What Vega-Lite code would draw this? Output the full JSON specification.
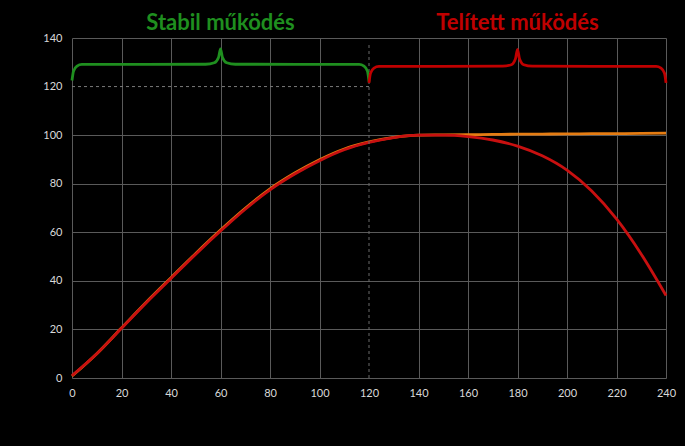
{
  "$schema": "https://vega.github.io/schema/vega-lite/v6.json",
  "width": 594,
  "height": 340,
  "autosize": {"type": "none"},
  "padding": {"left": 72, "top": 38, "right": 19, "bottom": 68},
  "background": "#000000",
  "config": {
    "view": {"stroke": null},
    "axis": {
      "domain": false,
      "ticks": false,
      "labelColor": "#d9d9d9",
      "labelFont": "Lato",
      "labelFontSize": 11,
      "gridColor": "#5a5a5a",
      "gridWidth": 1,
      "title": null
    }
  },
  "datasets": {
    "curves": [
      {"x": 0, "red": 1, "orange": 0.8},
      {"x": 10, "red": 10, "orange": 10},
      {"x": 20, "red": 20.5, "orange": 20.6},
      {"x": 30, "red": 31, "orange": 31.2},
      {"x": 40, "red": 41, "orange": 41.3},
      {"x": 50, "red": 51, "orange": 51.3},
      {"x": 60, "red": 60.5, "orange": 60.9},
      {"x": 70, "red": 69.5, "orange": 69.9},
      {"x": 80, "red": 77.5, "orange": 77.9},
      {"x": 90, "red": 84, "orange": 84.4},
      {"x": 100, "red": 89.5, "orange": 89.9},
      {"x": 110, "red": 94, "orange": 94.3},
      {"x": 120, "red": 97, "orange": 97.2},
      {"x": 130, "red": 99, "orange": 99.1},
      {"x": 140, "red": 100, "orange": 100},
      {"x": 150, "red": 100, "orange": 100.1},
      {"x": 160, "red": 99.4, "orange": 100.2},
      {"x": 170, "red": 98, "orange": 100.3},
      {"x": 180, "red": 95.5, "orange": 100.4},
      {"x": 190, "red": 91.5, "orange": 100.45},
      {"x": 200, "red": 85.6, "orange": 100.5},
      {"x": 210, "red": 77, "orange": 100.6},
      {"x": 220, "red": 65.5, "orange": 100.65},
      {"x": 230, "red": 51, "orange": 100.7},
      {"x": 240, "red": 34, "orange": 100.8}
    ],
    "greenBrace": [
      {"x": 0, "y": 122.5},
      {"x": 0.6, "y": 126.3},
      {"x": 2, "y": 128.4},
      {"x": 4, "y": 129.1},
      {"x": 54, "y": 129.2},
      {"x": 57.5, "y": 129.8},
      {"x": 59.2, "y": 132},
      {"x": 60, "y": 135.5},
      {"x": 60.8, "y": 132},
      {"x": 62.5, "y": 129.8},
      {"x": 66, "y": 129.2},
      {"x": 116, "y": 129.1},
      {"x": 118, "y": 128.4},
      {"x": 119.4, "y": 126.3},
      {"x": 120, "y": 122}
    ],
    "redBrace": [
      {"x": 120, "y": 121.5},
      {"x": 120.6, "y": 125.5},
      {"x": 122, "y": 127.6},
      {"x": 124, "y": 128.3},
      {"x": 174, "y": 128.4},
      {"x": 177.5, "y": 129},
      {"x": 179.2, "y": 131.5},
      {"x": 180, "y": 135.3},
      {"x": 180.8, "y": 131.5},
      {"x": 182.5, "y": 129},
      {"x": 186, "y": 128.4},
      {"x": 236, "y": 128.3},
      {"x": 238, "y": 127.6},
      {"x": 239.4, "y": 125.5},
      {"x": 240, "y": 121.5}
    ],
    "labels": [
      {"x": 60, "y": 146, "text": "Stabil működés", "c": "green"},
      {"x": 180, "y": 146, "text": "Telített működés", "c": "red"}
    ],
    "hdash": [{"x": 0, "x2": 120, "y": 120}],
    "vdash": [{"x": 120, "y": 0, "y2": 138}]
  },
  "layer": [
    {
      "data": {"name": "curves"},
      "mark": {"type": "line", "color": "#e57c12", "strokeWidth": 2.8, "interpolate": "monotone"},
      "encoding": {
        "x": {
          "field": "x", "type": "quantitative",
          "scale": {"domain": [0, 240], "nice": false},
          "axis": {
            "values": [0, 20, 40, 60, 80, 100, 120, 140, 160, 180, 200, 220, 240],
            "labelPadding": 9,
            "labelFlush": false,
            "gridOpacity": {"condition": {"test": "datum.value === 120", "value": 0}, "value": 1}
          }
        },
        "y": {
          "field": "orange", "type": "quantitative",
          "scale": {"domain": [0, 140], "nice": false},
          "axis": {
            "values": [0, 20, 40, 60, 80, 100, 120, 140],
            "labelPadding": 10,
            "gridOpacity": {"condition": {"test": "datum.value === 120", "value": 0}, "value": 1}
          }
        }
      }
    },
    {
      "data": {"name": "curves"},
      "mark": {"type": "line", "color": "#c81010", "strokeWidth": 2.8, "interpolate": "monotone"},
      "encoding": {
        "x": {"field": "x", "type": "quantitative"},
        "y": {"field": "red", "type": "quantitative"}
      }
    },
    {
      "data": {"name": "hdash"},
      "mark": {"type": "rule", "color": "#7a7a7a", "strokeDash": [3, 3], "strokeWidth": 1},
      "encoding": {
        "x": {"field": "x", "type": "quantitative"},
        "x2": {"field": "x2"},
        "y": {"field": "y", "type": "quantitative"}
      }
    },
    {
      "data": {"name": "vdash"},
      "mark": {"type": "rule", "color": "#6a6a6a", "strokeDash": [3, 3], "strokeWidth": 1},
      "encoding": {
        "x": {"field": "x", "type": "quantitative"},
        "y": {"field": "y", "type": "quantitative"},
        "y2": {"field": "y2"}
      }
    },
    {
      "data": {"name": "greenBrace"},
      "mark": {"type": "line", "color": "#1f8f1f", "strokeWidth": 2.8, "interpolate": "monotone"},
      "encoding": {
        "x": {"field": "x", "type": "quantitative"},
        "y": {"field": "y", "type": "quantitative"}
      }
    },
    {
      "data": {"name": "redBrace"},
      "mark": {"type": "line", "color": "#c00000", "strokeWidth": 2.8, "interpolate": "monotone"},
      "encoding": {
        "x": {"field": "x", "type": "quantitative"},
        "y": {"field": "y", "type": "quantitative"}
      }
    },
    {
      "data": {"name": "labels"},
      "mark": {"type": "text", "font": "Lato", "fontSize": 22, "fontWeight": "bold", "baseline": "middle", "align": "center"},
      "encoding": {
        "x": {"field": "x", "type": "quantitative"},
        "y": {"field": "y", "type": "quantitative"},
        "text": {"field": "text"},
        "color": {
          "field": "c", "type": "nominal",
          "scale": {"domain": ["green", "red"], "range": ["#1f8f1f", "#c00000"]},
          "legend": null
        }
      }
    }
  ]
}
